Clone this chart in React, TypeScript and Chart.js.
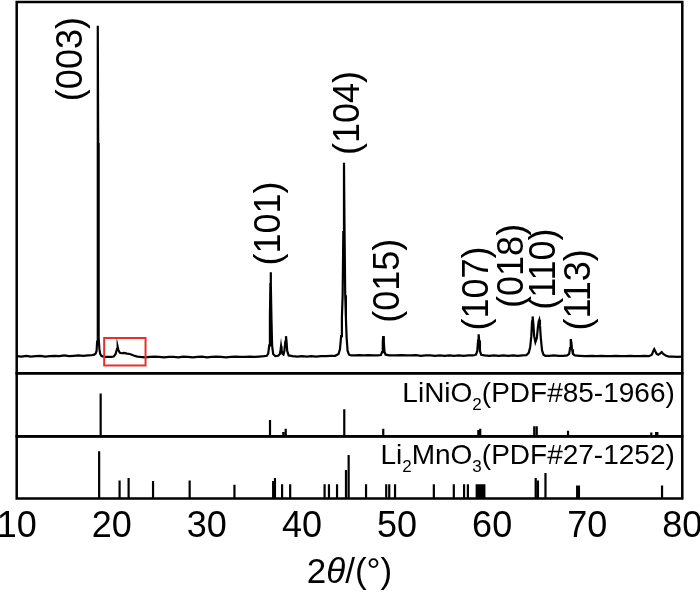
import React, { useEffect, useRef } from 'react';
import { Chart, registerables } from 'chart.js';

Chart.register(...registerables);

const FONT = '"Liberation Sans", Arial, Helvetica, sans-serif';

// x axis
const X_MIN = 10;
const X_MAX = 80;
const X_STEP = 10;

// measured XRD pattern [2θ, intensity] (top panel, arbitrary units 0..1000)
const pattern: [number, number][] = [
  [10.0, 46], [10.5, 45], [11.0, 47], [11.5, 45], [12.0, 46], [12.5, 47], [13.0, 45], [13.5, 46],
  [14.0, 47], [14.5, 46], [15.0, 48], [15.5, 46], [16.0, 47], [16.5, 48], [17.0, 47], [17.5, 48],
  [17.9, 49], [18.15, 50], [18.3, 53], [18.4, 60], [18.46, 85], [18.5, 200], [18.53, 600],
  [18.55, 936], [18.57, 620], [18.6, 220], [18.64, 95], [18.7, 65], [18.78, 52], [18.9, 47],
  [19.1, 45], [19.5, 44], [19.9, 44], [20.2, 45], [20.4, 52], [20.55, 66], [20.62, 71], [20.7, 62],
  [20.85, 55], [21.0, 54], [21.3, 55], [21.6, 53], [21.9, 52], [22.3, 48], [22.7, 45], [23.0, 44],
  [23.5, 43], [24.0, 44], [24.5, 45], [25.0, 44], [25.5, 43], [26.0, 44], [26.5, 44], [27.0, 43],
  [27.5, 45], [28.0, 44], [28.5, 43], [29.0, 44], [29.5, 45], [30.0, 43], [30.5, 44], [31.0, 45],
  [31.5, 44], [32.0, 43], [32.5, 44], [33.0, 45], [33.5, 44], [34.0, 44], [34.5, 45], [35.0, 44],
  [35.5, 45], [36.0, 46], [36.3, 47], [36.45, 53], [36.56, 75], [36.63, 150], [36.68, 240],
  [36.71, 272], [36.74, 240], [36.79, 150], [36.86, 75], [36.97, 52], [37.2, 46], [37.5, 47],
  [37.68, 52], [37.75, 63], [37.8, 73], [37.86, 62], [37.95, 52], [38.05, 50], [38.15, 60],
  [38.25, 85], [38.32, 100], [38.38, 85], [38.45, 60], [38.6, 48], [39.0, 46], [39.5, 45],
  [40.0, 46], [40.5, 45], [41.0, 46], [41.5, 45], [42.0, 46], [42.5, 46], [43.0, 47], [43.5, 47],
  [43.85, 52], [44.0, 65], [44.12, 100], [44.2, 150], [44.28, 210], [44.35, 380], [44.42, 567],
  [44.48, 380], [44.55, 210], [44.62, 150], [44.7, 95], [44.8, 60], [44.95, 50], [45.2, 48],
  [45.6, 48], [46.0, 49], [46.5, 48], [47.0, 49], [47.5, 48], [48.0, 48], [48.3, 49], [48.42, 57],
  [48.5, 85], [48.55, 100], [48.61, 85], [48.68, 58], [48.8, 50], [49.2, 48], [49.8, 48],
  [50.5, 49], [51.0, 48], [51.5, 48], [52.0, 49], [52.5, 47], [53.0, 48], [53.5, 48], [54.0, 47],
  [54.5, 48], [55.0, 47], [55.5, 48], [56.0, 47], [56.5, 48], [57.0, 47], [57.5, 48], [58.0, 48],
  [58.3, 50], [58.44, 60], [58.52, 88], [58.58, 105], [58.64, 88], [58.72, 60], [58.85, 50],
  [59.2, 48], [59.7, 47], [60.2, 48], [60.7, 47], [61.2, 48], [61.7, 47], [62.2, 48], [62.7, 47],
  [63.2, 48], [63.6, 49], [63.85, 55], [64.0, 70], [64.12, 100], [64.2, 140], [64.26, 153],
  [64.33, 135], [64.42, 100], [64.55, 84], [64.7, 95], [64.82, 125], [64.9, 140], [64.96, 144],
  [65.03, 130], [65.12, 95], [65.25, 62], [65.4, 50], [65.6, 47], [66.0, 47], [66.5, 48],
  [67.0, 47], [67.5, 47], [67.9, 48], [68.1, 52], [68.2, 68], [68.25, 82], [68.29, 92],
  [68.34, 82], [68.4, 65], [68.5, 52], [68.7, 48], [69.2, 47], [69.8, 46], [70.5, 47], [71.0, 46],
  [71.5, 47], [72.0, 46], [72.5, 46], [73.0, 47], [73.5, 46], [74.0, 46], [74.5, 47], [75.0, 46],
  [75.5, 46], [76.0, 47], [76.5, 46], [76.8, 50], [76.95, 60], [77.05, 65], [77.15, 60],
  [77.3, 52], [77.47, 50], [77.65, 53], [77.83, 57], [78.0, 52], [78.3, 47], [78.6, 45],
  [79.0, 45], [79.5, 44], [80.0, 45],
];

// peak labels (Miller indices)
const peakLabels = ['(003)', '(101)', '(104)', '(015)', '(107)', '(018)', '(110)', '(113)'];
const peakLabelTheta = [15.87, 36.64, 44.95, 49.2, 58.51, 62.19, 65.61, 69.24];
const peakLabelIntensity = [733, 290, 588, 136, 115, 176, 171, 115];

// highlighted region (red box)
const boxTheta = [19.2, 23.55];
const boxIntensity = [21, 95];

// LiNiO2 reference (PDF#85-1966), relative intensity %
const liNiO2Theta = [18.83, 36.64, 38.04, 38.29, 44.45, 48.55, 58.55, 58.75, 64.43, 64.69, 67.98, 76.74, 77.25, 77.38];
const liNiO2Height = [68, 26, 7, 12, 43, 12, 10, 12, 16, 16, 9, 6, 7, 7];

// Li2MnO3 reference (PDF#27-1252), relative intensity %
const li2MnO3Theta = [
  18.67, 20.82, 21.77, 24.34, 28.19, 32.9, 36.97, 37.16, 37.91, 38.76, 42.38, 42.84, 43.69,
  44.63, 44.91, 46.74, 48.86, 49.18, 49.79, 53.87, 55.97, 57.05, 57.45, 58.38, 58.6, 58.8,
  59.0, 59.18, 64.58, 64.82, 65.61, 68.94, 69.13, 77.87,
];
const li2MnO3Height = [
  76, 29, 33, 28, 29, 22, 28, 33, 23, 23, 23, 23, 23,
  46, 70, 23, 23, 23, 23, 23, 23, 23, 23, 23, 23, 23,
  23, 23, 33, 29, 41, 21, 21, 21,
];

const refNames = ['LiNiO2(PDF#85-1966)', 'Li2MnO3(PDF#27-1252)'];

function sticks(theta: number[], h: number[]) {
  const out: { x: number; y: number | null }[] = [];
  theta.forEach((t, i) => {
    out.push({ x: t, y: 0 }, { x: t, y: h[i] }, { x: t, y: null });
  });
  return out;
}

type Run = { t: string; size: number; dy: number; italic?: boolean };

function drawRuns(ctx: CanvasRenderingContext2D, runs: Run[], x: number, y: number, align: 'right' | 'center') {
  const fontOf = (r: Run) => `${r.italic ? 'italic ' : ''}${r.size}px ${FONT}`;
  let total = 0;
  runs.forEach((r) => {
    ctx.font = fontOf(r);
    total += ctx.measureText(r.t).width;
  });
  let cx = align === 'right' ? x - total : x - total / 2;
  ctx.textAlign = 'left';
  ctx.textBaseline = 'alphabetic';
  runs.forEach((r) => {
    ctx.font = fontOf(r);
    ctx.fillText(r.t, cx, y + r.dy);
    cx += ctx.measureText(r.t).width;
  });
}

function splitFormula(name: string, big: number, small: number, dy: number): Run[] {
  // digits inside the chemical formula (before "(") are subscripts
  const runs: Run[] = [];
  const paren = name.indexOf('(');
  const formula = name.slice(0, paren);
  const rest = name.slice(paren);
  const parts = formula.match(/[A-Za-z]+|\d+/g) || [];
  parts.forEach((p) => {
    if (/^\d+$/.test(p)) runs.push({ t: p, size: small, dy });
    else runs.push({ t: p, size: big, dy: 0 });
  });
  runs.push({ t: rest, size: big, dy: 0 });
  return runs;
}

const overlayPlugin = {
  id: 'xrdOverlay',
  afterDraw(chart: any) {
    const { ctx, chartArea, scales } = chart;
    const x = scales.x;
    const yTop = scales.yTop;
    const yMid = scales.yMid;
    const yBot = scales.yBot;
    ctx.save();

    // red highlight box
    ctx.strokeStyle = '#e8302a';
    ctx.lineWidth = 2;
    const bx0 = x.getPixelForValue(boxTheta[0]);
    const bx1 = x.getPixelForValue(boxTheta[1]);
    const by0 = yTop.getPixelForValue(boxIntensity[1]);
    const by1 = yTop.getPixelForValue(boxIntensity[0]);
    ctx.strokeRect(bx0, by0, bx1 - bx0, by1 - by0);

    // panel frames
    ctx.strokeStyle = '#000';
    ctx.lineWidth = 2.5;
    [yTop, yMid, yBot].forEach((s: any) => {
      ctx.strokeRect(chartArea.left, s.top, chartArea.right - chartArea.left, s.bottom - s.top);
    });

    ctx.fillStyle = '#000';

    // peak labels, rotated
    ctx.font = `36px ${FONT}`;
    peakLabels.forEach((lab, i) => {
      const px = x.getPixelForValue(peakLabelTheta[i]);
      const py = yTop.getPixelForValue(peakLabelIntensity[i]);
      ctx.save();
      ctx.translate(px, py);
      ctx.rotate(-Math.PI / 2);
      ctx.textAlign = 'left';
      ctx.textBaseline = 'middle';
      ctx.fillText(lab, 0, 0);
      ctx.restore();
    });

    // reference names
    drawRuns(ctx, splitFormula(refNames[0], 28, 17, 8), chartArea.right - 7.5, yMid.top + 29, 'right');
    drawRuns(ctx, splitFormula(refNames[1], 28, 17, 8), chartArea.right - 7.5, yBot.top + 27.5, 'right');

    // x axis title 2θ/(°)
    drawRuns(
      ctx,
      [
        { t: '2', size: 35, dy: 0 },
        { t: 'θ', size: 35, dy: 0, italic: true },
        { t: '/(°)', size: 35, dy: 0 },
      ],
      (chartArea.left + chartArea.right) / 2,
      583,
      'center'
    );

    ctx.restore();
  },
};

export default function App() {
  const ref = useRef<HTMLCanvasElement>(null);

  useEffect(() => {
    if (!ref.current) return;
    const hiddenY = (stackWeight: number, weight: number, max: number) => ({
      type: 'linear' as const,
      position: 'left' as const,
      stack: 'panels',
      stackWeight,
      weight,
      min: 0,
      max,
      ticks: { display: false },
      grid: { display: false, drawTicks: false },
      border: { display: false },
    });

    const chart = new Chart(ref.current, {
      type: 'line',
      data: {
        datasets: [
          {
            label: 'pattern',
            data: pattern.map(([t, v]) => ({ x: t, y: v })),
            yAxisID: 'yTop',
            borderColor: '#000',
            borderWidth: 2.2,
            pointRadius: 0,
            tension: 0,
          },
          {
            label: refNames[0],
            data: sticks(liNiO2Theta, liNiO2Height),
            yAxisID: 'yMid',
            borderColor: '#000',
            borderWidth: 2.2,
            pointRadius: 0,
            spanGaps: false,
          },
          {
            label: refNames[1],
            data: sticks(li2MnO3Theta, li2MnO3Height),
            yAxisID: 'yBot',
            borderColor: '#000',
            borderWidth: 2.2,
            pointRadius: 0,
            spanGaps: false,
          },
        ],
      },
      options: {
        animation: false,
        responsive: false,
        devicePixelRatio: 1,
        layout: { padding: { left: 16.7, right: 17.7, top: 2, bottom: 38.3 } },
        plugins: { legend: { display: false }, tooltip: { enabled: false } },
        scales: {
          x: {
            type: 'linear',
            position: 'bottom',
            min: X_MIN,
            max: X_MAX,
            offset: false,
            ticks: {
              stepSize: X_STEP,
              autoSkip: false,
              maxRotation: 0,
              padding: 7,
              color: '#000',
              font: { family: FONT, size: 36 },
            },
            grid: { display: false, drawTicks: false },
            border: { display: false },
            afterFit: (s: any) => {
              s.paddingLeft = 0;
              s.paddingRight = 0;
            },
          },
          yTop: hiddenY(376.5, 3, 1000),
          yMid: hiddenY(64, 2, 100),
          yBot: hiddenY(63, 1, 100),
        },
      },
      plugins: [overlayPlugin],
    } as any);
    return () => chart.destroy();
  }, []);

  return (
    <div style={{ position: 'fixed', left: 0, top: 0, width: 700, height: 594, background: '#fff' }}>
      <canvas ref={ref} width={700} height={594} style={{ display: 'block' }} />
    </div>
  );
}
